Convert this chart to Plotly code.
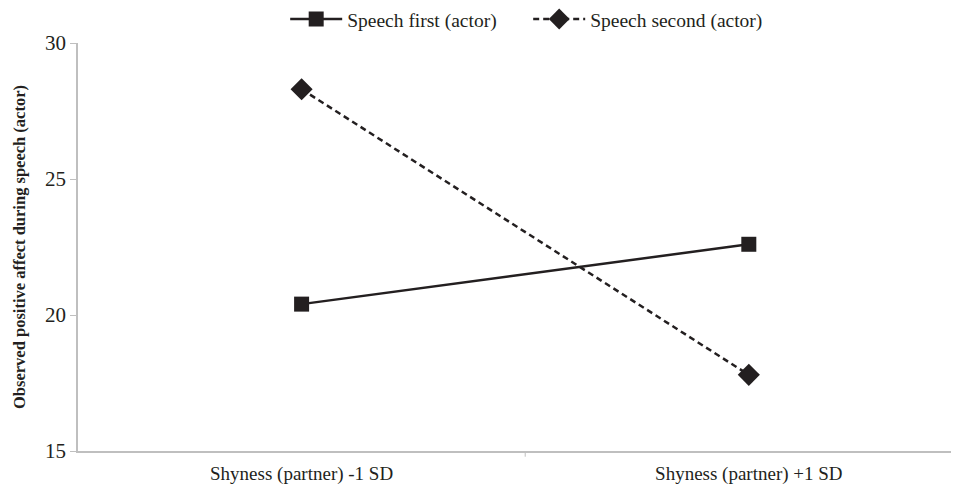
import plotly.graph_objects as go

categories = ["Shyness (partner) -1 SD", "Shyness (partner) +1 SD"]
speech_first = [20.4, 22.6]
speech_second = [28.3, 17.8]
y_ticks = [15, 20, 25, 30]

x_idx = list(range(len(categories)))
ink = "#231f20"
font = "Liberation Serif, Times New Roman, serif"

fig = go.Figure()
fig.add_trace(go.Scatter(
    x=x_idx, y=speech_first, name="Speech first (actor)", mode="lines+markers",
    line=dict(color=ink, width=2.5),
    marker=dict(symbol="square", size=15, color=ink)))
fig.add_trace(go.Scatter(
    x=x_idx, y=speech_second, name="Speech second (actor)", mode="lines+markers",
    line=dict(color=ink, width=2.5, dash="6px,4px"),
    marker=dict(symbol="diamond", size=17, color=ink)))

fig.update_layout(
    width=959, height=488,
    margin=dict(l=70, r=8, t=35, b=45, autoexpand=False),
    paper_bgcolor="white", plot_bgcolor="white",
    font=dict(family=font, size=19, color=ink),
    showlegend=True,
    legend=dict(orientation="h", x=0.511, xanchor="center", y=1.058, yanchor="middle",
                font=dict(family=font, size=19.5, color=ink), itemwidth=52,
                entrywidth=176, entrywidthmode="pixels",
                tracegroupgap=0, bgcolor="rgba(0,0,0,0)"),
    xaxis=dict(range=[-0.5, 1.47], showgrid=False, zeroline=False, automargin=False,
               showline=True, linecolor="#bfbfbf", linewidth=1.5,
               tickvals=x_idx, ticktext=categories, ticklabelstandoff=4,
               ticks="", tickfont=dict(family=font, size=19, color=ink)),
    yaxis=dict(range=[15, 30], tickvals=y_ticks, showgrid=False, zeroline=False,
               automargin=False,
               showline=True, linecolor="#bfbfbf", linewidth=1.5,
               ticks="outside", ticklen=6, tickcolor="#bfbfbf",
               tickfont=dict(family=font, size=21, color=ink),
               title=dict(text="<b>Observed positive affect during speech (actor)</b>",
                          font=dict(family=font, size=16.5, color=ink), standoff=15)),
)
fig.add_shape(type="line", xref="x", yref="paper", x0=0.5, x1=0.5, y0=0, y1=-0.014,
              line=dict(color="#bfbfbf", width=1))

fig.write_html("out.html")
